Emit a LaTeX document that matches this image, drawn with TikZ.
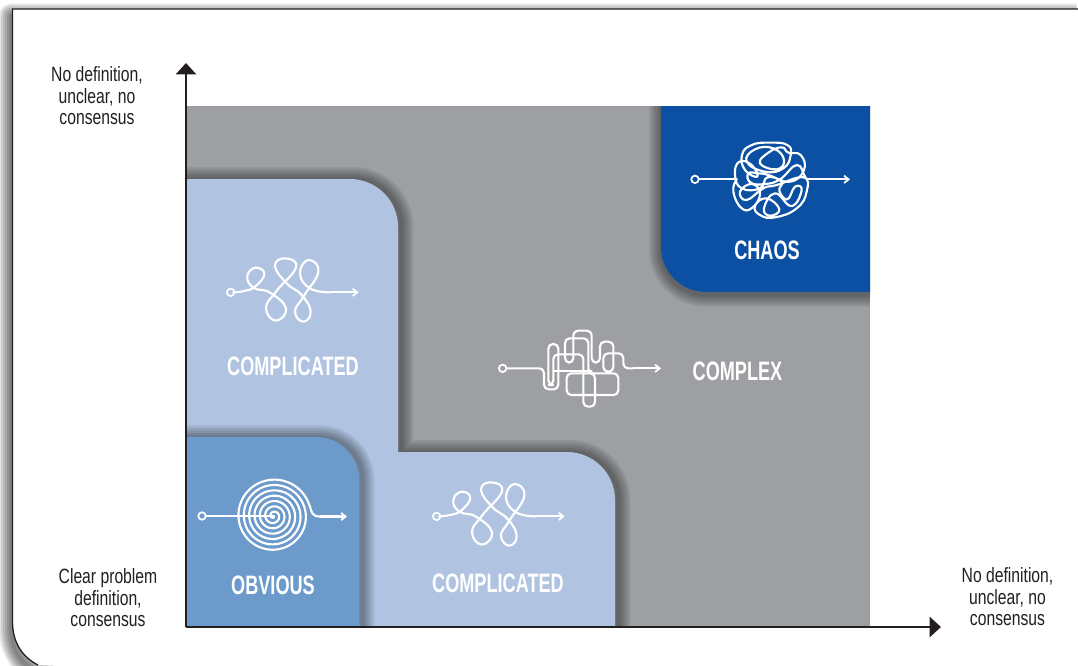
\documentclass[tikz,border=0pt]{standalone}
\usepackage{fontspec}
\setmainfont{Liberation Sans}
\newfontfamily\axisfont[FakeStretch=0.76]{Liberation Sans}
\newfontfamily\capfont[FakeStretch=0.68]{Liberation Sans Bold}
\usetikzlibrary{arrows.meta,calc}
\definecolor{plotgrey}{HTML}{9D9FA2}
\definecolor{paleblue}{HTML}{B0C4E2}
\definecolor{midblue}{HTML}{6B9ACB}
\definecolor{deepblue}{HTML}{0B50A3}
\definecolor{inkdark}{HTML}{231F20}
\tikzset{
  axislabel/.style={font=\axisfont\fontsize{15.5pt}{16.1pt}\selectfont,text=inkdark,align=center,inner sep=0pt},
  caplabel/.style={font=\capfont\fontsize{20pt}{24pt}\selectfont,text=white,inner sep=0pt},
  axisline/.style={draw=inkdark,line width=1.9pt,-{Triangle[length=8.5pt,width=15pt]}},
  iconline/.style={draw=white,line width=1.6pt,line cap=round,line join=round},
  icontip/.style={iconline,-{Straight Barb[length=3.4pt,width=5.5pt,line width=1.3pt]}},
  startdot/.style={circle,draw=white,line width=1.3pt,minimum size=5.6pt,inner sep=0pt},
}
\newcommand{\softshadow}[2]{%
  \foreach \w in {18,15,12,9,6,3}{%
    \draw[line width=\w pt,black,opacity=.07,line join=round,#1] #2;}%
}
\newcommand{\loopicon}[1]{%
  \begin{scope}[shift={(#1)},x=.25pt,y=-.25pt]
    \draw[iconline] plot[smooth,tension=.8] coordinates {(39,127) (72,123) (105,110) (133,72) (107,53) (82,78) (100,113) (150,128) (198,175) (168,212) (138,175) (168,125) (228,52) (195,25) (165,48) (200,100) (245,135) (272,185) (250,215) (225,185) (250,140) (295,65) (265,30) (240,70) (270,115) (330,127)};
    \node[startdot] at (32,127) {};
    \draw[icontip] (330,127) -- (416,127);
  \end{scope}}
\begin{document}
\begin{tikzpicture}[x=.75pt,y=-.75pt]
\useasboundingbox (0,0) rectangle (1078,665);
% page frame with shadow
\begin{scope}
  \clip (0,0) rectangle (1078,665);
  \fill[white] (0,0) rectangle (1078,665);
  \foreach \w in {18,15,12,9,6,3}{%
    \draw[line width=\w pt,black,opacity=.1,line join=round,xshift=-1pt,yshift=-5pt] (1078,9) -- (12.5,9) -- (12.5,622) .. controls (12.5,642) and (22,657) .. (38,665) -- (50,670);}
  \fill[white] (1078,9) -- (12.5,9) -- (12.5,622) .. controls (12.5,642) and (22,657) .. (38,665) -- (1078,665) -- cycle;
  \draw[inkdark,line width=1pt] (1078,9) -- (12.5,9) -- (12.5,622) .. controls (12.5,642) and (22,657) .. (38,665);
\end{scope}
% plot field
\fill[plotgrey] (186,106) rectangle (870,627);
\begin{scope}
  \clip (186,106) rectangle (870,627);
  % chaos
  \softshadow{yshift=-2pt}{(661,100) -- (661,247) arc[start angle=180,end angle=90,radius=45] -- (880,292) -- (880,100) -- cycle}
  \fill[deepblue] (661,106) -- (661,247) arc[start angle=180,end angle=90,radius=45] -- (870,292) -- (870,106) -- cycle;
  % L-shaped complicated field
  \softshadow{xshift=2.5pt}{(180,640) -- (180,179) -- (350,179) arc[start angle=270,end angle=360,radius=48] -- (398,452) -- (567,452) arc[start angle=270,end angle=360,radius=48] -- (615,640) -- cycle}
  \fill[paleblue] (186,627) -- (186,179) -- (350,179) arc[start angle=270,end angle=360,radius=48] -- (398,452) -- (567,452) arc[start angle=270,end angle=360,radius=48] -- (615,627) -- cycle;
  % obvious
  \softshadow{xshift=2.5pt}{(180,640) -- (180,437) -- (316,437) arc[start angle=270,end angle=360,radius=43] -- (359,640) -- cycle}
  \fill[midblue] (186,627) -- (186,437) -- (316,437) arc[start angle=270,end angle=360,radius=43] -- (359,627) -- cycle;
\end{scope}
% axes
\coordinate (origin) at (186,627);
\coordinate (ytip) at (186,63);
\coordinate (xtip) at (941,627);
\draw[axisline] (origin) -- (ytip);
\draw[axisline] (origin) -- (xtip);
% axis labels
\node[axislabel] (ylabel) at (97,96) {No definition,\\unclear, no\\consensus};
\node[axislabel] (olabel) at (108,598) {Clear problem\\definition,\\consensus};
\node[axislabel] (xlabel) at (1007.5,597) {No definition,\\unclear, no\\consensus};
% field labels
\node[caplabel] (cap1) at (293,366) {COMPLICATED};
\node[caplabel] (cap2) at (498,583) {COMPLICATED};
\node[caplabel] (cap3) at (273,585.5) {OBVIOUS};
\node[caplabel] (cap4) at (767,250) {CHAOS};
\node[caplabel] (cap5) at (737.5,371) {COMPLEX};
% icons: loops
\loopicon{220,250}
\loopicon{426,474}
% icon: spiral
\node[startdot] (sp) at (202,516) {};
\coordinate (spc) at (273.5,516);
\draw[iconline] (sp) -- (spc);
\draw[iconline] plot[smooth,domain=0:2520,samples=260,variable=\t] ({273.5+37.5*(\t/2520)*cos(16+2520-\t)},{516-37.5*(\t/2520)*sin(16+2520-\t)});
\draw[iconline] (309.7,505.6) .. controls (311.5,512) and (312,516.5) .. (320,516.5);
\coordinate (spend) at (347,516.5);
\draw[icontip] (320,516.5) -- (spend);
% icon: tangled rectangles
\begin{scope}[shift={(490,320)},x=.25pt,y=-.25pt]
  \node[startdot] (cx) at (38,145) {};
  \draw[iconline,rounded corners=3.5pt] (cx.east) -- (162,145) -- (162,208) -- (205,208) -- (205,72) -- (175,72) -- (175,195) -- (190,195) -- (190,103) -- (280,103) -- (280,260) -- (315,260) -- (315,160) -- (230,160) -- (230,225) -- (385,225) -- (385,160) -- (295,160) -- (295,55) -- (225,55) -- (225,128) -- (250,128) -- (250,32) -- (305,32) -- (305,128) -- (330,128) -- (330,65) -- (370,65) -- (370,155) -- (340,155) -- (340,100) -- (400,100) -- (400,145) -- (430,145);
  \draw[iconline,rounded corners=3.5pt] (190,152) -- (305,152);
  \draw[icontip] (430,145) -- (513,145);
\end{scope}
% icon: scribble
\begin{scope}[shift={(680,120)},x=.25pt,y=-.25pt]
  \node[startdot] (ch) at (45,178) {};
  \draw[iconline] (ch.east) -- (170,178);
  \draw[iconline] plot[smooth,tension=.8] coordinates {(170,178) (160,215) (185,265) (218,262) (240,220) (215,192) (180,215) (200,240) (250,205) (290,195) (370,172) (380,215) (350,265) (285,292) (240,285) (225,258) (260,235) (298,268) (270,287) (252,265) (285,220) (335,258) (365,210) (345,200) (322,238) (298,212) (305,185) (262,172) (240,205) (185,205) (165,165) (178,125) (215,135) (232,170) (195,150) (186,105) (215,75) (270,68) (322,75) (332,105) (310,145) (255,155) (200,125) (225,88) (280,85) (312,120) (290,148) (240,130) (265,98) (305,82) (325,98) (362,105) (372,150) (330,185) (265,165) (235,160) (205,160) (212,188) (255,192) (300,178) (350,135) (375,170) (382,178)};
  \draw[icontip] (382,178) -- (510,178);
\end{scope}
\end{tikzpicture}
\end{document}
